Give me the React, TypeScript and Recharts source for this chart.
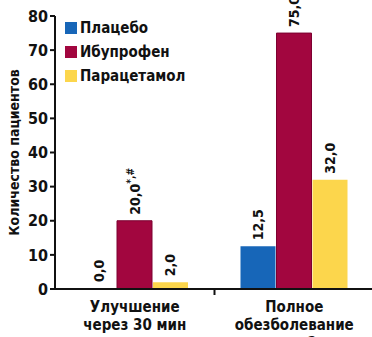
import React from "react";
import {
  BarChart,
  Bar,
  XAxis,
  YAxis,
  LabelList,
  Label,
  Cell,
} from "recharts";

// data
const categories = [
  ["Улучшение", "через 30 мин"],
  ["Полное", "обезболевание", "через 2 ч"],
];
const placebo = [0, 12.5];
const ibuprofen = [20, 75];
const paracetamol = [2, 32];
const ibuprofenMarks = ["*,#", ""];
const yTicks = [0, 10, 20, 30, 40, 50, 60, 70, 80];

const SERIES = [
  { key: "placebo", name: "Плацебо", color: "#1766b8", values: placebo },
  { key: "ibuprofen", name: "Ибупрофен", color: "#a2063f", values: ibuprofen },
  { key: "paracetamol", name: "Парацетамол", color: "#fcd64c", values: paracetamol },
];

const FONT = "'Liberation Sans Narrow', 'DejaVu Sans Condensed', Arial, sans-serif";

const data = categories.map((c, i) => ({
  name: c.join(" "),
  placebo: placebo[i],
  ibuprofen: ibuprofen[i],
  paracetamol: paracetamol[i],
}));

const fmt = (v: number) => v.toFixed(1).replace(".", ",");

const ValueLabel = (props: any) => {
  const { x, y, width, height, value, index, mark } = props;
  const top = Math.min(y, y + height);
  const cx = x + width / 2 + 5;
  const cy = top - 6;
  const sup = mark ? ibuprofenMarks[index] : "";
  return (
    <text
      x={cx}
      y={cy}
      transform={`rotate(-90 ${cx} ${cy})`}
      fontFamily={FONT}
      fontWeight={700}
      fontSize={14}
      fill="#111"
    >
      {fmt(value)}
      {sup ? (
        <tspan fontSize={10} dy={-6}>
          {sup}
        </tspan>
      ) : null}
    </text>
  );
};

const XTick = (props: any) => {
  const { x, y, payload, index } = props;
  const lines = categories[index] || [];
  const half = payload && payload.offset ? payload.offset : 80;
  return (
    <g>
      {index === 0 ? (
        <line x1={x + half} x2={x + half} y1={y - 8} y2={y - 2} stroke="#111" strokeWidth={2} />
      ) : null}
      {lines.map((l: string, i: number) => (
        <text
          key={i}
          x={x}
          y={y + 15 + i * 18}
          textAnchor="middle"
          fontFamily={FONT}
          fontWeight={700}
          fontSize={15}
          fill="#111"
        >
          {l}
        </text>
      ))}
    </g>
  );
};

export default function App() {
  return (
    <div style={{ position: "absolute", left: 0, top: 0, width: 372, height: 337, overflow: "hidden", background: "#fff" }}>
      <BarChart
        width={376}
        height={337}
        data={data}
        margin={{ top: 16, right: 2, left: 0, bottom: 0 }}
        barSize={35}
        barGap={1}
      >
        <YAxis
          width={55}
          domain={[0, 80]}
          ticks={yTicks}
          interval={0}
          axisLine={{ stroke: "#111", strokeWidth: 2 }}
          tickLine={{ stroke: "#111", strokeWidth: 2 }}
          tickSize={5}
          tick={{ fontFamily: FONT, fontWeight: 700, fontSize: 16, fill: "#111" }}
        >
          <Label
            value="Количество пациентов"
            angle={-90}
            position="insideLeft"
            offset={14}
            style={{ fontFamily: FONT, fontWeight: 700, fontSize: 14, fill: "#111", textAnchor: "middle" }}
          />
        </YAxis>
        <XAxis
          dataKey="name"
          height={48}
          axisLine={{ stroke: "#111", strokeWidth: 2 }}
          tickLine={false}
          interval={0}
          tick={<XTick />}
        />
        {SERIES.map((s) => (
          <Bar key={s.key} dataKey={s.key} name={s.name} fill={s.color} isAnimationActive={false}
            minPointSize={1}
            stroke={s.key === "ibuprofen" ? "#7d0030" : undefined}>
            {s.values.map((v, i) => (
              <Cell key={i} fillOpacity={v === 0 ? 0 : 1} strokeOpacity={v === 0 ? 0 : 1} />
            ))}
            <LabelList dataKey={s.key} content={<ValueLabel mark={s.key === "ibuprofen"} />} />
          </Bar>
        ))}
      </BarChart>
      <div style={{ position: "absolute", left: 65, top: 16, fontFamily: FONT, fontWeight: 700, fontSize: 15, color: "#111" }}>
        {SERIES.map((s) => (
          <div key={s.key} style={{ display: "flex", alignItems: "center", height: 24 }}>
            <span style={{ width: 12, height: 12, background: s.color, marginRight: 3, display: "inline-block" }} />
            {s.name}
          </div>
        ))}
      </div>
    </div>
  );
}
